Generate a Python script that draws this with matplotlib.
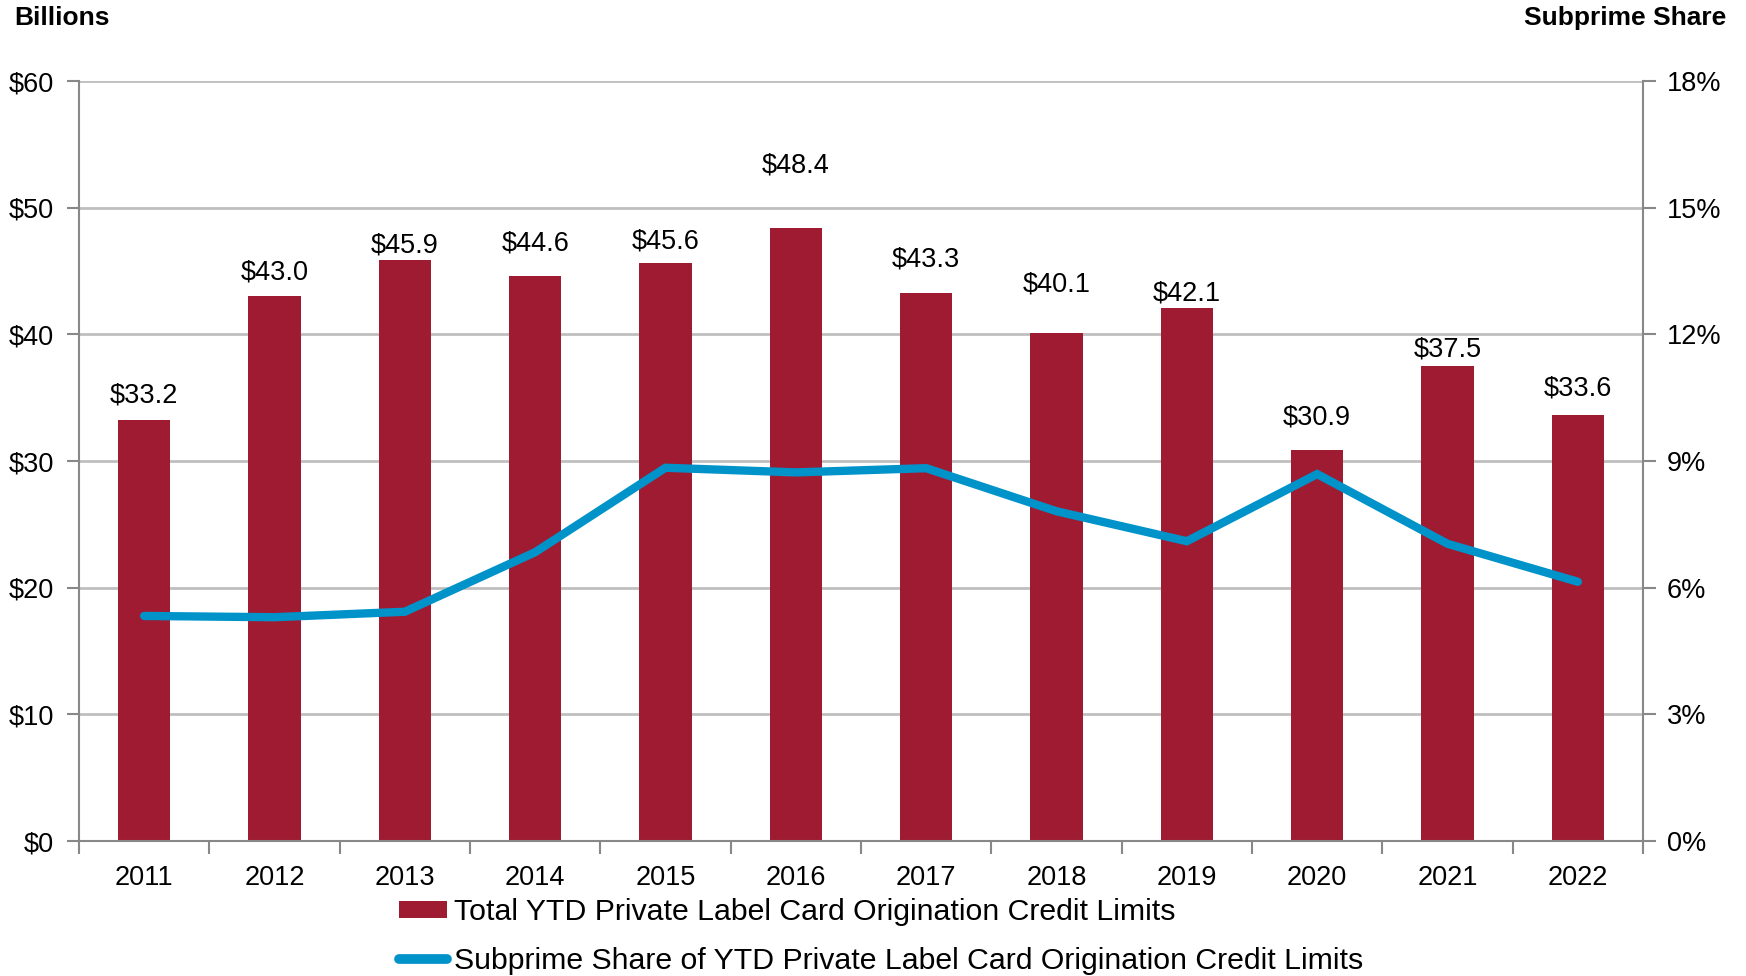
import matplotlib
matplotlib.use("Agg")
import matplotlib.pyplot as plt
from matplotlib.lines import Line2D
from matplotlib.patches import Patch
import numpy as np

years = ["2011", "2012", "2013", "2014", "2015", "2016", "2017", "2018", "2019", "2020", "2021", "2022"]
limits = [33.2, 43.0, 45.9, 44.6, 45.6, 48.4, 43.3, 40.1, 42.1, 30.9, 37.5, 33.6]
subprime_share = [5.33, 5.30, 5.43, 6.84, 8.84, 8.73, 8.83, 7.81, 7.10, 8.69, 7.04, 6.14]
left_ticks = [0, 10, 20, 30, 40, 50, 60]
right_ticks = [0, 3, 6, 9, 12, 15, 18]
bar_name = "Total YTD Private Label Card Origination Credit Limits"
line_name = "Subprime Share of YTD Private Label Card Origination Credit Limits"

# layout: label centre heights (in $ units) as placed in the original chart
label_y = [35.2, 44.9, 47.0, 47.2, 47.3, 53.3, 45.9, 43.9, 43.2, 33.4, 38.8, 35.7]

plt.rcParams['font.family'] = ['Liberation Sans', 'DejaVu Sans']
FS = 19.5
LFS = 21.8
BAR_C = "#9E1B32"
LINE_C = "#0093C9"
GRID_C = "#BFBFBF"
AX_C = "#888888"

fig = plt.figure(figsize=(17.46, 9.76), dpi=100)
ax = fig.add_axes([79/1746, 1-841/976, (1643-79)/1746, (841-81)/976])
x = np.arange(len(years))

ax.bar(x, limits, width=0.4, color=BAR_C, zorder=2)
ax.set_ylim(0, 60)
ax.set_xlim(-0.5, len(years)-0.5)
ax.set_yticks(left_ticks)
ax.set_yticklabels([f"${v}" for v in left_ticks])
ax.yaxis.grid(True, color=GRID_C, lw=2, zorder=0)
ax.set_axisbelow(True)

ax.set_xticks(np.arange(-0.5, len(years), 1.0))
ax.set_xticklabels([])
ax.set_xticks(x, minor=True)
ax.set_xticklabels(years, minor=True)
ax.tick_params(axis='x', which='major', length=9, width=1.5, color=AX_C, direction='out')
ax.tick_params(axis='x', which='minor', length=0, pad=17, labelsize=FS)
ax.tick_params(axis='y', length=9, width=1.5, color=AX_C, labelsize=FS, pad=8.8)

ax.spines['top'].set_visible(False)
ax.spines['right'].set_visible(False)
for s in ['left', 'bottom']:
    ax.spines[s].set_color(AX_C)
    ax.spines[s].set_linewidth(1.5)

for xi, v, ly in zip(x, limits, label_y):
    ax.text(xi, ly, f"${v:.1f}", ha='center', va='center', fontsize=FS, zorder=5)

ax2 = ax.twinx()
ax2.set_ylim(0, 18)
ax2.set_yticks(right_ticks)
ax2.set_yticklabels([f"{v}%" for v in right_ticks])
ax2.plot(x, subprime_share, color=LINE_C, lw=6, solid_capstyle='round', solid_joinstyle='miter', zorder=4)
ax2.tick_params(axis='y', length=9, width=1.5, color=AX_C, labelsize=FS, pad=8.2)
for s in ['top', 'left', 'bottom']:
    ax2.spines[s].set_visible(False)
ax2.spines['right'].set_color(AX_C)
ax2.spines['right'].set_linewidth(1.5)

fig.text(14/1746, 1-18/976, "Billions", fontsize=19, fontweight='bold', ha='left', va='center')
fig.text(1726/1746, 1-18/976, "Subprime Share", fontsize=19, fontweight='bold', ha='right', va='center')

handles = [Patch(facecolor=BAR_C, edgecolor='none'),
           Line2D([0], [0], color=LINE_C, lw=7, solid_capstyle='round')]
leg = fig.legend(handles, [bar_name, line_name], loc='upper left',
                 bbox_to_anchor=(399/1746, 1-898/976), frameon=False, fontsize=LFS,
                 handlelength=1.6, handleheight=0.5, handletextpad=0.22, labelspacing=0.69,
                 borderaxespad=0, borderpad=0)

fig.savefig("out.png", dpi=100)
